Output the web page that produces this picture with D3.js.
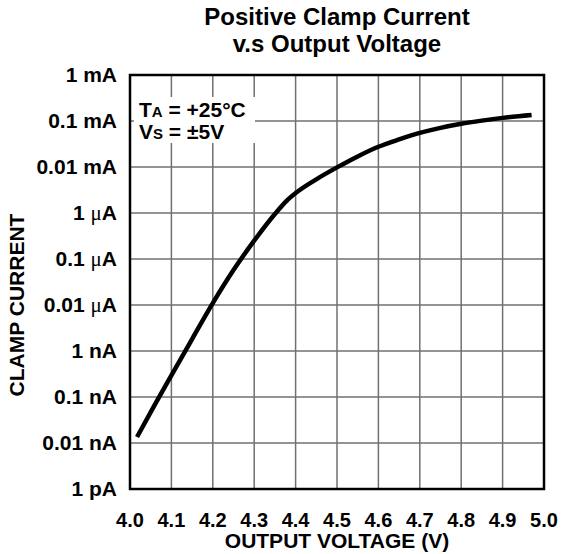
<!DOCTYPE html>
<html>
<head>
<meta charset="utf-8">
<script src="https://cdn.jsdelivr.net/npm/d3@7"></script>
<style>
  body { margin: 0; background: #fff; }
  text { font-family: "Liberation Sans", Arial, sans-serif; font-weight: bold; fill: #000; }
</style>
</head>
<body>
<script>
const width = 563, height = 554;

// tick values and labels
const xTicks = [4.0, 4.1, 4.2, 4.3, 4.4, 4.5, 4.6, 4.7, 4.8, 4.9, 5.0];
const yTicks = [1e-3, 1e-4, 1e-5, 1e-6, 1e-7, 1e-8, 1e-9, 1e-10, 1e-11, 1e-12];
const yLabels = [["1 m", "A"], ["0.1 m", "A"], ["0.01 m", "A"], ["1 ", "μ", "A"], ["0.1 ", "μ", "A"],
  ["0.01 ", "μ", "A"], ["1 n", "A"], ["0.1 n", "A"], ["0.01 n", "A"], ["1 p", "A"]];

// curve
const voltage = [4.017, 4.06, 4.1, 4.15, 4.2, 4.25, 4.3, 4.35, 4.38, 4.41, 4.45, 4.5,
  4.55, 4.6, 4.65, 4.7, 4.75, 4.8, 4.85, 4.9, 4.97];
const current = [1.35e-11, 6.8e-11, 2.95e-10, 1.82e-9, 1.1e-8, 5.75e-8, 2.5e-7, 9.5e-7, 1.9e-6,
  3.16e-6, 5.4e-6, 9.8e-6, 1.7e-5, 2.75e-5, 3.98e-5, 5.5e-5, 7.1e-5, 8.7e-5, 1.02e-4, 1.17e-4, 1.35e-4];

const x = d3.scaleLinear().domain([4.0, 5.0]).range([130, 544]);
const y = d3.scaleLog().domain([1e-12, 1e-3]).range([489, 75]);

const svg = d3.select("body").append("svg")
    .attr("width", width)
    .attr("height", height);

// grid
svg.append("g").selectAll("line").data(xTicks.slice(1, -1)).join("line")
    .attr("x1", d => x(d)).attr("x2", d => x(d))
    .attr("y1", y(1e-3)).attr("y2", y(1e-12))
    .attr("stroke", "#707070").attr("stroke-width", 1.5);
svg.append("g").selectAll("line").data(yTicks.slice(1, -1)).join("line")
    .attr("x1", x(4.0)).attr("x2", x(5.0))
    .attr("y1", d => y(d)).attr("y2", d => y(d))
    .attr("stroke", "#707070").attr("stroke-width", 1.5);

// annotation box
svg.append("rect")
    .attr("x", 134).attr("y", 97).attr("width", 121).attr("height", 46)
    .attr("fill", "#fff");
const note = svg.append("g").attr("font-size", 21);
const t1 = note.append("text").attr("x", 139).attr("y", 117);
t1.append("tspan").text("T");
t1.append("tspan").attr("font-size", 15).text("A");
t1.append("tspan").text(" = +25°C");
const t2 = note.append("text").attr("x", 139).attr("y", 139);
t2.append("tspan").text("V");
t2.append("tspan").attr("font-size", 15).text("S");
t2.append("tspan").text(" = ±5V");

// border
svg.append("rect")
    .attr("x", x(4.0)).attr("y", y(1e-3))
    .attr("width", x(5.0) - x(4.0)).attr("height", y(1e-12) - y(1e-3))
    .attr("fill", "none").attr("stroke", "#000").attr("stroke-width", 2.5);

// curve
const line = d3.line()
    .x(d => x(d[0]))
    .y(d => y(d[1]))
    .curve(d3.curveMonotoneX);
svg.append("path")
    .datum(d3.zip(voltage, current))
    .attr("d", line)
    .attr("fill", "none").attr("stroke", "#000").attr("stroke-width", 4.5);

// x tick labels
svg.append("g").selectAll("text").data(xTicks).join("text")
    .attr("x", d => x(d)).attr("y", 527)
    .attr("text-anchor", "middle").attr("font-size", 20)
    .text(d => d.toFixed(1));

// y tick labels
const yl = svg.append("g").selectAll("text").data(yTicks).join("text")
    .attr("x", 117).attr("y", d => y(d) + 7)
    .attr("text-anchor", "end").attr("font-size", 21);
yl.each(function(d, i) {
  const t = d3.select(this);
  yLabels[i].forEach(p => {
    const s = t.append("tspan").text(p);
    if (p === "μ") s.attr("font-family", "Liberation Serif, serif").attr("font-weight", "normal");
  });
});

// titles
svg.append("text").attr("x", 337).attr("y", 25).attr("text-anchor", "middle")
    .attr("font-size", 24).text("Positive Clamp Current");
svg.append("text").attr("x", 337).attr("y", 52).attr("text-anchor", "middle")
    .attr("font-size", 24).text("v.s Output Voltage");
svg.append("text").attr("x", 337).attr("y", 548).attr("text-anchor", "middle")
    .attr("font-size", 21).text("OUTPUT VOLTAGE (V)");
svg.append("text").attr("transform", "translate(24,305) rotate(-90)")
    .attr("text-anchor", "middle").attr("font-size", 21).text("CLAMP CURRENT");
</script>
</body>
</html>
